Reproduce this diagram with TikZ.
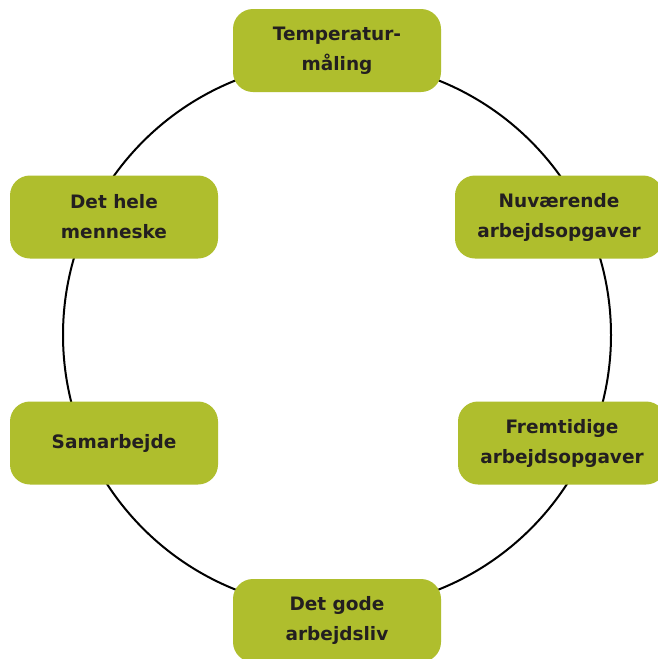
\documentclass[tikz,border=0pt]{standalone}
\usepackage{fontspec}
\setmainfont{DejaVu Sans}
\usepackage{xcolor}
\usepackage{tikz}
\definecolor{olive}{RGB}{175,190,45}
\definecolor{ink}{RGB}{35,31,32}

\begin{document}
\begin{tikzpicture}[
  x=1pt, y=-1pt,
  topic/.style={rectangle, rounded corners=20pt, fill=olive, draw=none,
                minimum width=208pt, minimum height=83pt, inner sep=0pt,
                align=center, text=ink,
                font=\fontsize{18.5}{30}\selectfont\bfseries},
  ring/.style={draw=black, line width=2pt}
]
\clip (0,0) rectangle (658,659);
\fill[white] (0,0) rectangle (658,659);

\coordinate (mid) at (337,335);
\draw[ring] (mid) circle (274pt);

\node[topic] (temp)  at (337,50.5) {Temperatur-\\måling};
\node[topic] (nu)    at (559,217)  {Nuværende\\arbejdsopgaver};
\node[topic] (frem)  at (562,443)  {Fremtidige\\arbejdsopgaver};
\node[topic] (godt)  at (337,620.5) {Det gode\\arbejdsliv};
\node[topic] (samar) at (114,443)  {Samarbejde};
\node[topic] (hele)  at (114,217)  {Det hele\\menneske};
\end{tikzpicture}
\end{document}
